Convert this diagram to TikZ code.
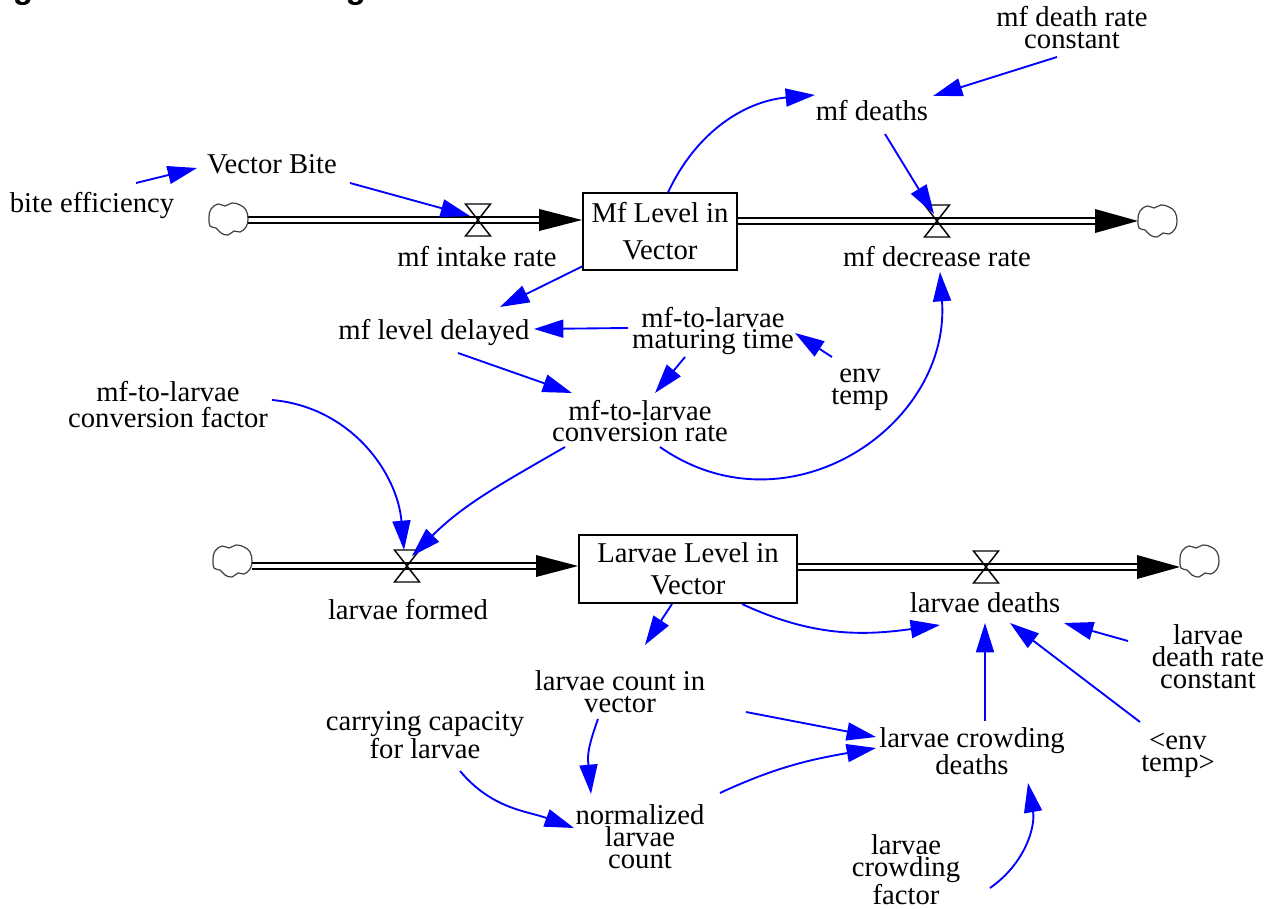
\documentclass[tikz,border=0pt]{standalone}
\usepackage{fontspec}
\setmainfont{Liberation Serif}
\newfontfamily\titlesans{Liberation Sans}
\usetikzlibrary{arrows.meta,calc}
\begin{document}
\begin{tikzpicture}[x=0.75pt,y=-0.75pt,
 lbl/.style={font=\fontsize{21.5}{16.5}\selectfont, align=center, inner sep=0pt},
 lblt/.style={lbl, font=\fontsize{21.5}{12.75}\selectfont},
 lblw/.style={lbl, font=\fontsize{21.5}{19.5}\selectfont},
 stock/.style={draw, line width=1.4pt, align=center, inner sep=0pt},
 link/.style={draw=blue, line width=1.4pt, -{Triangle[length=22pt,width=13.5pt]}},
 pipe/.style={line width=1.5pt, double=white, double distance=3pt},
 valveline/.style={line width=1.1pt},
 cloudline/.style={line width=0.9pt, draw=black!75, fill=white},
]
\useasboundingbox (0,0) rectangle (1264,909);
\begin{scope}
\clip (0,0) rectangle (1264,909);
\node[anchor=base west, inner sep=0pt, font=\titlesans\bfseries\fontsize{25}{30}\selectfont] (title) at (-17,-1) {Figure 4. Model for Single Vector Infection};
\end{scope}

% labels
\node[lbl] (vb) at (272,164) {Vector Bite};
\node[lbl] (bite) at (92,206) {bite efficiency};
\node[lbl] (intake) at (477,257) {mf intake rate};
\node[lbl] (decr) at (937,257) {mf decrease rate};
\node[lbl] (deaths) at (872,111) {mf deaths};
\node[lbl] (mfdrc) at (1072,28) {mf death rate\\constant};
\node[lbl] (mld) at (434,333) {mf level delayed};
\node[lblt] (mat) at (713,331) {mf-to-larvae\\maturing time};
\node[lbl] (env) at (860,390) {env\\temp};
\node[lblw] (cfac) at (168,405) {mf-to-larvae\\conversion factor};
\node[lblt] (crate) at (640,421) {mf-to-larvae\\conversion rate};
\node[stock, minimum width=115.5pt, minimum height=57.75pt, font=\fontsize{21.5}{27.75}\selectfont] (mfbox) at (660,231.5) {Mf Level in\\Vector};
\node[stock, minimum width=163.5pt, minimum height=51pt, font=\fontsize{21.5}{24}\selectfont] (lbox) at (688,569) {Larvae Level in\\Vector};
\node[lbl] (formed) at (408,610) {larvae formed};
\node[lbl] (ldeaths) at (985,603) {larvae deaths};
\node[lbl] (lcount) at (620,692) {larvae count in\\vector};
\node[lbl] (cap) at (425,735) {carrying capacity\\for larvae};
\node[lbl] (norm) at (640,837) {normalized\\larvae\\count};
\node[lbl] (crowd) at (972,751) {larvae crowding\\deaths};
\node[lbl] (cfact) at (906,870) {larvae\\crowding\\factor};
\node[lbl] (ldrc) at (1208,657) {larvae\\death rate\\constant};
\node[lbl] (envt) at (1178,755) {<env\\temp>};

% clouds and valves
\coordinate (cL1) at (228,219);
\coordinate (v1) at (478,220);
\coordinate (v2) at (937,221);
\coordinate (cR1) at (1157,221);
\coordinate (cL2) at (232,561);
\coordinate (v3) at (407,566);
\coordinate (v4) at (986,567);
\coordinate (cR2) at (1199,561);

% pipes
\draw[pipe] ($(v1)+(-232,0)$) -- ($(mfbox.west |- v1)+(-40,0)$);
\fill (mfbox.west |- v1) -- ++(-43,-11) -- ++(0,22) -- cycle;
\draw[pipe] (mfbox.east |- v2) -- ($(v2)+(160,0)$);
\fill ($(v2)+(158,-12)$) -- ($(v2)+(201,0)$) -- ($(v2)+(158,12)$) -- cycle;
\draw[pipe] ($(v3)+(-155,0)$) -- ($(lbox.west |- v3)+(-40,0)$);
\fill (lbox.west |- v3) -- ++(-42,-11) -- ++(0,22) -- cycle;
\draw[pipe] (lbox.east |- v4) -- ($(v4)+(153,0)$);
\fill ($(v4)+(151,-12)$) -- ($(v4)+(194,0)$) -- ($(v4)+(151,12)$) -- cycle;

\foreach \v in {v1,v2,v3,v4}{
  \draw[valveline, shift={(\v)}] (-12.5,-16) -- (12.5,-16) -- (-12.5,16) -- (12.5,16) -- cycle;
}
\foreach \c in {cL1,cR1,cL2,cR2}{
  \draw[cloudline, shift={(\c)}] plot[smooth cycle, tension=0.7] coordinates {(-19,-2) (-17,-10) (-10,-15) (-3,-13) (4,-16) (12,-14) (18,-9) (20,0) (18,8) (12,13) (6,12) (0,16) (-7,14) (-12,9) (-18,7)};
}

% links
\draw[link] ($(bite)+(44,-23)$) -- ($(vb)+(-75,4)$);
\draw[link] ($(vb)+(78,19)$) -- ($(v1)+(-8,-4)$);
\draw[link] ($(mfbox)+(8,-39)$) to[out=65,in=185] ($(deaths)+(-57,-16)$);
\draw[link] ($(mfdrc)+(-15,29)$) -- ($(deaths)+(61,-15)$);
\draw[link] ($(deaths)+(13,23)$) -- ($(v2)+(-3,-7)$);
\draw[link] ($(mfbox)+(-78,35)$) -- ($(mld)+(66,-26)$);
\draw[link] ($(mat)+(-85,-3)$) -- ($(mld)+(100,-4)$);
\draw[link] ($(env)+(-28,-33)$) -- ($(mat)+(82,2)$);
\draw[link] ($(mld)+(24,20)$) -- ($(crate)+(-68,-28)$);
\draw[link] ($(mat)+(-28,26)$) -- ($(crate)+(15,-28)$);
\draw[link] ($(crate)+(20,26)$) to[out=-35,in=-86,looseness=1.2] ($(decr)+(3,15)$);
\draw[link] ($(cfac)+(104,-5)$) to[out=-5,in=95] ($(v3)+(-3,-16)$);
\draw[link] ($(crate)+(-75,26)$) to[out=-150,in=45] ($(v3)+(5,-10)$);
\draw[link] ($(lbox)+(-16,35)$) -- ($(lcount)+(25,-47)$);
\draw[link] ($(lbox)+(54,35)$) to[out=-25,in=188] ($(ldeaths)+(-45,22)$);
\draw[link] ($(ldrc)+(-80,-16)$) -- ($(ldeaths)+(79,20)$);
\draw[link] ($(envt)+(-38,-33)$) -- ($(ldeaths)+(25,20)$);
\draw[link] ($(crowd)+(13,-30)$) -- ($(ldeaths)+(0,20)$);
\draw[link] ($(lcount)+(126,20)$) -- ($(crowd)+(-96,-14)$);
\draw[link] ($(lcount)+(-22,27)$) to[out=-110,in=95,looseness=1.2] ($(norm)+(-49,-43)$);
\draw[link] ($(cap)+(35,36)$) to[out=-50,in=160] ($(norm)+(-66,-9)$);
\draw[link] ($(norm)+(80,-44)$) to[out=25,in=190] ($(crowd)+(-96,-3)$);
\draw[link] ($(cfact)+(84,18)$) to[out=35,in=-80] ($(crowd)+(56,32)$);
\end{tikzpicture}
\end{document}
